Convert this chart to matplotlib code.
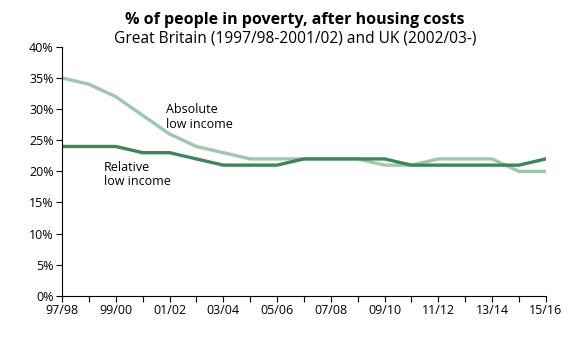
import matplotlib.pyplot as plt
import numpy as np

years = ["97/98", "98/99", "99/00", "00/01", "01/02", "02/03", "03/04", "04/05",
         "05/06", "06/07", "07/08", "08/09", "09/10", "10/11", "11/12", "12/13",
         "13/14", "14/15", "15/16"]
absolute = [35, 34, 32, 29, 26, 24, 23, 22, 22, 22, 22, 22, 21, 21, 22, 22, 22, 20, 20]
relative = [24, 24, 24, 23, 23, 22, 21, 21, 21, 22, 22, 22, 22, 21, 21, 21, 21, 21, 22]

plt.rcParams['font.family'] = ['Open Sans', 'DejaVu Sans']

fig = plt.figure(figsize=(5.85, 3.37), dpi=100)
ax = fig.add_axes([0.106, 0.122, 0.827, 0.739])

x = np.arange(len(years))
ax.plot(x, absolute, color='#9dc8ae', lw=2.4, solid_joinstyle='round')
ax.plot(x, relative, color='#3b8758', lw=2.4, solid_joinstyle='round')

ax.set_xlim(0, len(years) - 1)
ax.set_ylim(0, 40)
ax.set_yticks(np.arange(0, 41, 5))
ax.set_yticklabels([f"{v}%" for v in range(0, 41, 5)])
ax.set_xticks(x[::2])
ax.set_xticklabels(years[::2])
ax.set_xticks(x[1::2], minor=True)
ax.tick_params(axis='both', direction='out', length=4, width=0.8, labelsize=9, pad=2)
ax.tick_params(axis='x', which='minor', direction='out', length=4, width=0.8)
for s in ['top', 'right']:
    ax.spines[s].set_visible(False)

ax.text(3.87, 28.7, "Absolute\nlow income", fontsize=9, va='center', ha='left', linespacing=1.15)
ax.text(1.56, 19.5, "Relative\nlow income", fontsize=9, va='center', ha='left', linespacing=1.15)

fig.text(0.503, 0.94, "% of people in poverty, after housing costs", ha='center',
         va='center', fontsize=11.5, fontweight='bold')
fig.text(0.505, 0.886, "Great Britain (1997/98-2001/02) and UK (2002/03-)", ha='center',
         va='center', fontsize=11.2)

fig.savefig("out.png", dpi=100)
